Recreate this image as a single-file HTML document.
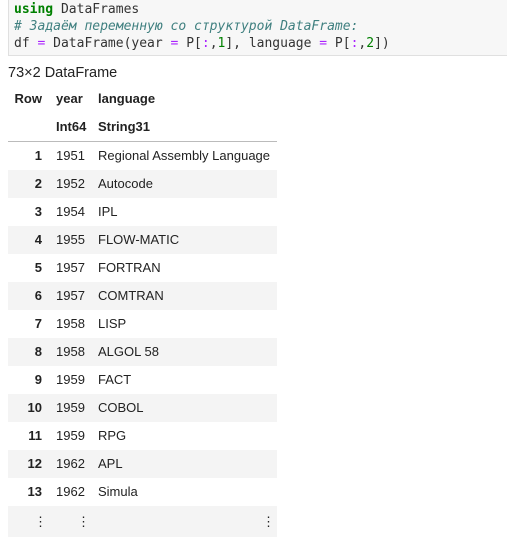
<!DOCTYPE html>
<html><head><meta charset="utf-8"><style>
body{margin:0;width:507px;height:538px;background:#fff;overflow:hidden;position:relative;font-family:"Liberation Sans",sans-serif;}
.code{position:absolute;left:8px;top:-1px;width:499px;height:57px;background:#f7f7f7;border:1px solid #e0e0e0;border-right:none;box-sizing:border-box;}
.code pre{margin:0;position:absolute;left:5px;top:1px;font-family:"DejaVu Sans Mono","Liberation Mono",monospace;font-size:13px;line-height:17px;color:#333;}
.kw{color:#008000;font-weight:bold}.cm{color:#408080;font-style:italic}.op{color:#aa22ff}.nm{color:#008000}
.t{position:absolute;font-size:14px;color:#222;}
.row{position:absolute;left:8px;width:269px;height:28px;}
.sh{background:#f4f4f4}
.c{position:absolute;top:0;line-height:28px;font-size:13px;color:#222;}
.r{right:235px;font-weight:bold;text-align:right}
.y{left:48px}.l{left:90px}
.h{font-weight:bold}
</style></head><body>
<div class="code"><pre><span class="kw">using</span> DataFrames
<span class="cm"># Задаём переменную со структурой DataFrame:</span>
df <span class="op">=</span> DataFrame(year <span class="op">=</span> P[<span class="op">:</span>,<span class="nm">1</span>], language <span class="op">=</span> P[<span class="op">:</span>,<span class="nm">2</span>])</pre></div>
<div class="t" style="left:8px;top:65px;font-size:14.5px">73×2 DataFrame</div>
<div class="row" style="top:85px"><span class="c r h">Row</span><span class="c y h">year</span><span class="c l h">language</span></div>
<div class="row" style="top:113px"><span class="c y h">Int64</span><span class="c l h">String31</span></div>
<div style="position:absolute;left:8px;top:141px;width:269px;height:1px;background:#bbb"></div>
<div class="row" style="top:142px"><span class="c r">1</span><span class="c y">1951</span><span class="c l">Regional Assembly Language</span></div>
<div class="row sh" style="top:170px"><span class="c r">2</span><span class="c y">1952</span><span class="c l">Autocode</span></div>
<div class="row" style="top:198px"><span class="c r">3</span><span class="c y">1954</span><span class="c l">IPL</span></div>
<div class="row sh" style="top:226px"><span class="c r">4</span><span class="c y">1955</span><span class="c l">FLOW-MATIC</span></div>
<div class="row" style="top:254px"><span class="c r">5</span><span class="c y">1957</span><span class="c l">FORTRAN</span></div>
<div class="row sh" style="top:282px"><span class="c r">6</span><span class="c y">1957</span><span class="c l">COMTRAN</span></div>
<div class="row" style="top:310px"><span class="c r">7</span><span class="c y">1958</span><span class="c l">LISP</span></div>
<div class="row sh" style="top:338px"><span class="c r">8</span><span class="c y">1958</span><span class="c l">ALGOL 58</span></div>
<div class="row" style="top:366px"><span class="c r">9</span><span class="c y">1959</span><span class="c l">FACT</span></div>
<div class="row sh" style="top:394px"><span class="c r">10</span><span class="c y">1959</span><span class="c l">COBOL</span></div>
<div class="row" style="top:422px"><span class="c r">11</span><span class="c y">1959</span><span class="c l">RPG</span></div>
<div class="row sh" style="top:450px"><span class="c r">12</span><span class="c y">1962</span><span class="c l">APL</span></div>
<div class="row" style="top:478px"><span class="c r">13</span><span class="c y">1962</span><span class="c l">Simula</span></div>
<div class="row sh" style="top:506px;height:31px"><span class="c" style="left:26px;line-height:31px">⋮</span><span class="c" style="left:69px;line-height:31px">⋮</span><span class="c" style="left:254px;line-height:31px">⋮</span></div>
</body></html>
